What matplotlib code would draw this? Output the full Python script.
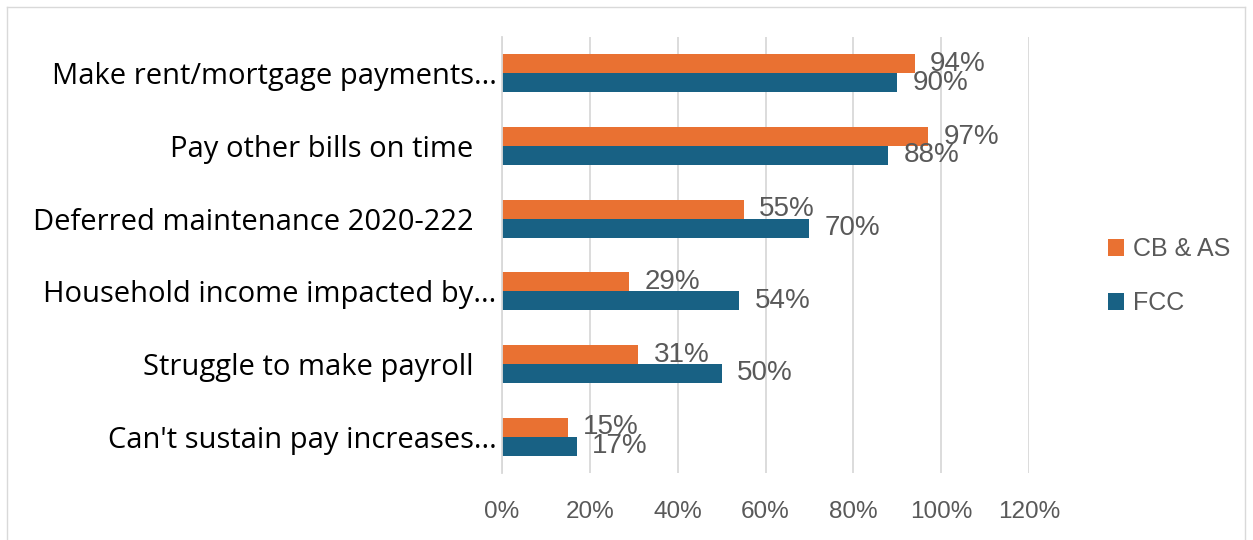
import matplotlib
matplotlib.use("Agg")
import matplotlib.pyplot as plt
from matplotlib.lines import Line2D

categories = ["Make rent/mortgage payments...", "Pay other bills on time   ",
              "Deferred maintenance 2020-222   ", "Household income impacted by...",
              "Struggle to make payroll   ", "Can't sustain pay increases..."]
cb_as = [0.94, 0.97, 0.55, 0.29, 0.31, 0.15]
fcc = [0.90, 0.88, 0.70, 0.54, 0.50, 0.17]
series_names = ["CB & AS", "FCC"]
xticks = [0, 0.2, 0.4, 0.6, 0.8, 1.0, 1.2]
xtick_labels = ["0%", "20%", "40%", "60%", "80%", "100%", "120%"]

ORANGE = "#E97132"
BLUE = "#186184"
GRAY = "#595959"

W, H = 1253, 540
fig = plt.figure(figsize=(W / 100, H / 100), dpi=100)

# chart border
for xs, ys_ in (([7 / W, 7 / W], [0, 1 - 7 / H]),
                ([7 / W, 1245 / W], [1 - 7 / H, 1 - 7 / H]),
                ([1245 / W, 1245 / W], [0, 1 - 7 / H])):
    fig.add_artist(Line2D(xs, ys_, transform=fig.transFigure, color="#D9D9D9", lw=1))

left, right, top, bottom = 502, 1029, 37, 473
ax = fig.add_axes([left / W, 1 - bottom / H, (right - left) / W, (bottom - top) / H])

h = 0.26
ys = list(range(len(categories)))
b1 = ax.barh([y - h / 2 for y in ys], cb_as, height=h, color=ORANGE, label=series_names[0], zorder=3)
b2 = ax.barh([y + h / 2 for y in ys], fcc, height=h, color=BLUE, label=series_names[1], zorder=3)

for bars, vals in ((b1, cb_as), (b2, fcc)):
    for bar, v in zip(bars, vals):
        ax.annotate(f"{round(v * 100)}%", xy=(v, bar.get_y() + bar.get_height() / 2),
                    xytext=(11, 0), textcoords="offset points", ha="left", va="center",
                    fontsize=20, color=GRAY, family="Liberation Sans", zorder=4)

ax.set_xlim(0, 1.2)
ax.set_ylim(len(categories) - 0.5, -0.5)
ax.set_xticks(xticks)
ax.set_xticklabels(xtick_labels, fontsize=17.5, color=GRAY, family="Liberation Sans")
ax.set_yticks(ys)
ax.set_yticklabels(categories, fontsize=21, color="black", family="Open Sans")
ax.tick_params(axis="both", length=0)
ax.tick_params(axis="x", pad=20)
ax.tick_params(axis="y", pad=4)
ax.grid(axis="x", color="#D9D9D9", lw=1.3, zorder=0)
for s in ("top", "right", "bottom"):
    ax.spines[s].set_visible(False)
ax.spines["left"].set_color("#D9D9D9")
ax.spines["left"].set_linewidth(1.3)
ax.spines["left"].set_zorder(5)

leg = fig.legend(handles=[b1, b2], labels=series_names, loc="center left",
                 bbox_to_anchor=(1108 / W, 1 - 276 / H), frameon=False,
                 prop={"family": "Liberation Sans", "size": 18},
                 handlelength=0.65, handleheight=0.65, handletextpad=0.35,
                 labelspacing=1.2, borderpad=0, borderaxespad=0)
for t in leg.get_texts():
    t.set_color(GRAY)

fig.savefig("out.png", dpi=100)
